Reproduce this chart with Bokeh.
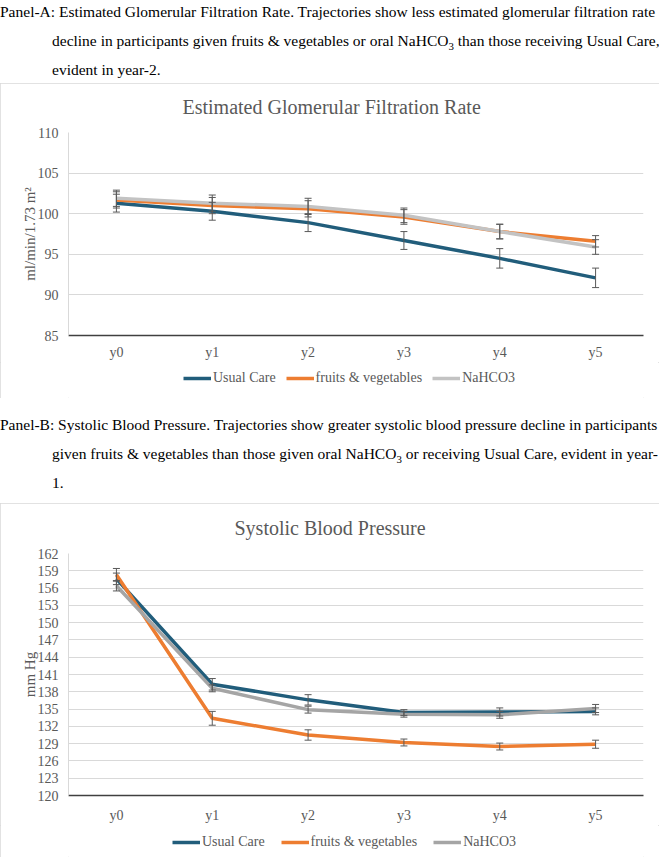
from bokeh.plotting import figure
from bokeh.models import (Div, ColumnDataSource, Whisker, TeeHead, Legend,
                          FixedTicker, FactorRange, Range1d)
from bokeh.layouts import column
from bokeh.embed import file_html
from bokeh.resources import INLINE

years = ["y0", "y1", "y2", "y3", "y4", "y5"]
series_names = ["Usual Care", "fruits & vegetables", "NaHCO3"]

# Panel A: eGFR (ml/min/1.73 m2)
egfr_uc = [101.3, 100.3, 98.9, 96.7, 94.5, 92.1]
egfr_fv = [101.7, 101.0, 100.6, 99.6, 97.8, 96.6]
egfr_na = [101.9, 101.3, 100.9, 99.8, 97.8, 95.9]
egfr_uc_err = [1.1, 1.1, 1.1, 1.1, 1.2, 1.2]
egfr_fv_err = [1.0, 1.0, 1.0, 0.9, 0.9, 0.7]
egfr_na_err = [1.0, 1.0, 1.0, 0.9, 0.9, 0.9]
egfr_ticks = [85, 90, 95, 100, 105, 110]

# Panel B: systolic blood pressure (mm Hg)
sbp_uc = [157.6, 139.3, 136.6, 134.4, 134.5, 134.6]
sbp_fv = [158.3, 133.4, 130.5, 129.2, 128.5, 128.9]
sbp_na = [156.4, 138.6, 134.9, 134.1, 134.0, 135.1]
sbp_uc_err = [1.0, 1.0, 0.9, 0.5, 0.7, 0.6]
sbp_fv_err = [1.1, 1.2, 0.9, 0.6, 0.6, 0.7]
sbp_na_err = [0.9, 0.6, 0.6, 0.5, 0.6, 0.7]
sbp_ticks = [120, 123, 126, 129, 132, 135, 138, 141, 144, 147, 150, 153, 156, 159, 162]

FONT = "Liberation Serif"
GREY_TXT = "#595959"
W = 659

caption_a = ("Panel-A: Estimated Glomerular Filtration Rate. Trajectories show less estimated glomerular filtration rate<br>"
             "decline in participants given fruits &amp; vegetables or oral NaHCO<sub style='line-height:0;font-size:0.7em'>3</sub> than those receiving Usual Care,<br>"
             "evident in year-2.")
caption_b = ("Panel-B: Systolic Blood Pressure. Trajectories show greater systolic blood pressure decline in participants<br>"
             "given fruits &amp; vegetables than those given oral NaHCO<sub style='line-height:0;font-size:0.7em'>3</sub> or receiving Usual Care, evident in year-<br>"
             "1.")


def cap_div(html, height, pad_top):
    style = (f"position:relative;top:{pad_top}px;font-family:'{FONT}';font-size:15.5px;"
             f"line-height:29px;color:#000;white-space:nowrap;padding-left:52px;"
             f"text-indent:-52px;margin:0;")
    return Div(text=f"<div style=\"{style}\">{html}</div>", width=W, height=height, margin=0)


def make_chart(title, title_off, ylabel, y0, y1, ticks, vals, errs, colors,
               top, plot_h, axis_h, xstand, leg_h, leg_x, leg_y, leg_spacing, lw):
    p = figure(x_range=FactorRange(*years), y_range=Range1d(y0, y1),
               frame_width=575, frame_height=plot_h,
               output_backend="svg", toolbar_location=None,
               min_border_left=68, min_border_right=16, min_border_top=top,
               min_border_bottom=axis_h)
    p.title.text = title
    p.title.align = "left"
    p.title.offset = title_off
    p.title.vertical_align = "top"
    p.title.standoff = top - 24
    p.title.text_font = FONT
    p.title.text_font_size = "20px"
    p.title.text_font_style = "normal"
    p.title.text_color = GREY_TXT
    p.outline_line_color = None
    p.background_fill_color = "white"
    p.border_fill_color = "white"

    p.xgrid.grid_line_color = None
    p.ygrid.grid_line_color = "#D9D9D9"
    p.ygrid.grid_line_width = 1
    p.yaxis.ticker = FixedTicker(ticks=ticks)

    p.xaxis.axis_line_color = "#404040"
    p.xaxis.axis_line_width = 1.5
    p.xaxis.major_tick_line_color = None
    p.xaxis.minor_tick_line_color = None
    p.xaxis.major_tick_out = 0
    p.xaxis.major_tick_in = 0
    p.xaxis.minor_tick_out = 0
    p.xaxis.major_label_standoff = xstand
    p.xaxis.major_label_text_font = FONT
    p.xaxis.major_label_text_font_size = "14px"
    p.xaxis.major_label_text_color = GREY_TXT

    p.yaxis.axis_line_color = "#D9D9D9"
    p.yaxis.major_tick_line_color = None
    p.yaxis.minor_tick_line_color = None
    p.yaxis.major_tick_out = 0
    p.yaxis.major_tick_in = 0
    p.yaxis.minor_tick_out = 0
    p.yaxis.major_label_standoff = 10
    p.yaxis.major_label_text_font = FONT
    p.yaxis.major_label_text_font_size = "14px"
    p.yaxis.major_label_text_color = GREY_TXT
    p.yaxis.axis_label = ylabel
    p.yaxis.axis_label_standoff = -3
    p.yaxis.axis_label_text_font = FONT
    p.yaxis.axis_label_text_font_size = "15px"
    p.yaxis.axis_label_text_font_style = "normal"
    p.yaxis.axis_label_text_color = GREY_TXT

    for name, v, e, c in zip(series_names, vals, errs, colors):
        src = ColumnDataSource(dict(x=years, y=v,
                                    upper=[a + b for a, b in zip(v, e)],
                                    lower=[a - b for a, b in zip(v, e)]))
        p.line("x", "y", source=src, line_color=c, line_width=lw)
        wk = Whisker(source=src, base="x", upper="upper", lower="lower",
                     line_color=GREY_TXT, line_width=1, level="overlay",
                     upper_head=TeeHead(size=7, line_color=GREY_TXT, line_width=1),
                     lower_head=TeeHead(size=7, line_color=GREY_TXT, line_width=1))
        p.add_layout(wk)

    # legend strip under the chart (same box); its renderers hold no visible data
    lg = figure(width=W, height=leg_h, x_range=Range1d(0, 1), y_range=Range1d(0, 1),
                x_axis_type=None, y_axis_type=None, min_border=0,
                output_backend="svg", toolbar_location=None)
    lg.outline_line_color = None
    lg.xgrid.visible = False
    lg.ygrid.visible = False
    items = []
    nan = float("nan")
    for name, c in zip(series_names, colors):
        r = lg.line(x=[nan, nan], y=[nan, nan], line_color=c, line_width=lw)
        items.append((name, [r]))
    leg = Legend(items=items, orientation="horizontal", location=(leg_x, leg_y),
                 border_line_color=None, background_fill_alpha=0,
                 label_text_font=FONT, label_text_font_size="14px",
                 label_text_color=GREY_TXT, glyph_width=28, glyph_height=16,
                 label_height=16, label_standoff=2, spacing=leg_spacing,
                 padding=0, margin=0)
    lg.add_layout(leg)
    return column(p, lg, spacing=0,
                  styles={"outline": "1px solid #D9D9D9", "outline-offset": "-1px"})


chart_a = make_chart("Estimated Glomerular Filtration Rate", 114, "ml/min/1.73 m²", 85, 110, egfr_ticks,
                     [egfr_uc, egfr_fv, egfr_na], [egfr_uc_err, egfr_fv_err, egfr_na_err],
                     ["#215D7B", "#ED7D31", "#C3C3C3"],
                     49, 203, 25, 9, 36, 115, 12, 10, 3.5)
chart_b = make_chart("Systolic Blood Pressure", 166, "mm Hg", 120, 162, sbp_ticks,
                     [sbp_uc, sbp_fv, sbp_na], [sbp_uc_err, sbp_fv_err, sbp_na_err],
                     ["#215D7B", "#ED7D31", "#A5A5A5"],
                     50, 242, 28, 12, 32, 104, 7, 16, 3.5)

layout = column(cap_div(caption_a, 83, -3), chart_a, cap_div(caption_b, 105, 12), chart_b, spacing=0)
open("out.html", "w").write(file_html(layout, INLINE))
